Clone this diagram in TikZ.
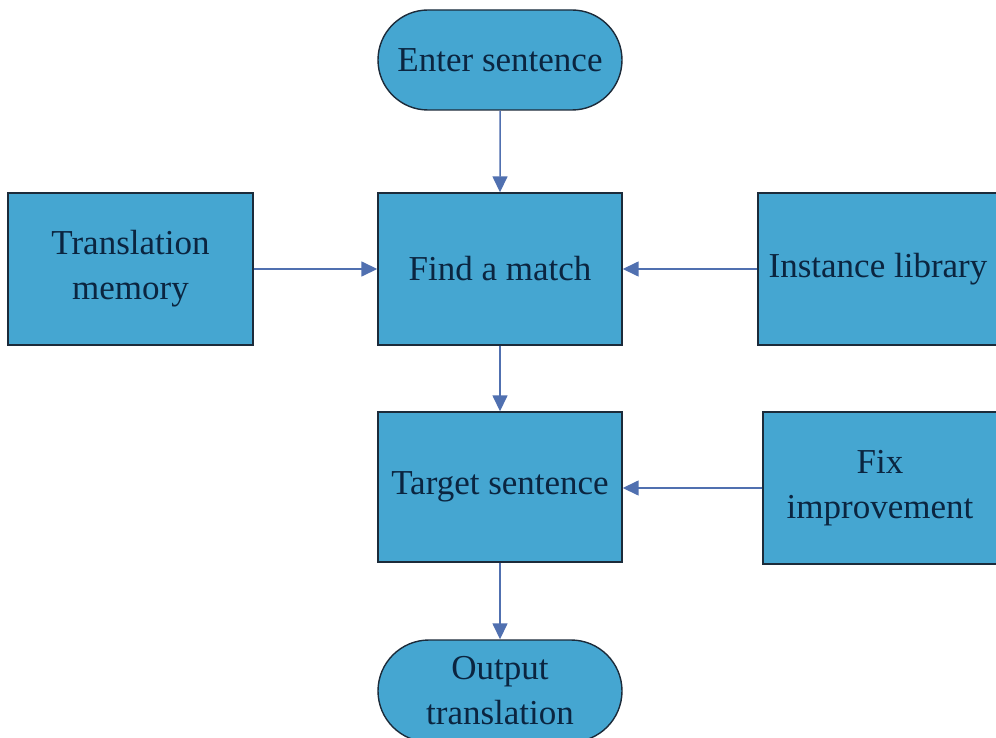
\documentclass[tikz,border=0pt]{standalone}
\usepackage{fontspec}
\setmainfont{Liberation Serif}
\usetikzlibrary{arrows.meta,shapes.misc}
\definecolor{boxfill}{HTML}{45A6D1}
\definecolor{boxline}{HTML}{1C2B3A}
\definecolor{arrowc}{HTML}{5070B0}
\definecolor{txt}{HTML}{0B2540}
\begin{document}
\begin{tikzpicture}[x=1pt,y=-1pt,
  box/.style={draw=boxline,line width=1.4pt,fill=boxfill,rectangle,inner sep=0pt,
    text=txt,align=center,font=\fontsize{35}{45}\selectfont},
  term/.style={box,rounded rectangle},
  conn/.style={draw=arrowc,line width=1.5pt,-{Triangle[length=16pt,width=15pt]}}]
\clip (0,0) rectangle (996,738);
\fill[white] (0,0) rectangle (996,738);
\node[term,minimum width=244pt,minimum height=100pt] (enter) at (500,60) {Enter sentence};
\node[box,minimum width=244pt,minimum height=152pt] (find) at (500,269) {Find a match};
\node[box,minimum width=245pt,minimum height=152pt] (tm) at (130.5,269) {Translation\\memory};
\node[box,minimum width=240pt,minimum height=152pt] (inst) at (878,269) {Instance library};
\node[box,minimum width=244pt,minimum height=150pt] (target) at (500,487) {Target sentence};
\node[box,minimum width=234pt,minimum height=152pt] (fix) at (880,488) {Fix\\improvement};
\node[term,minimum width=244pt,minimum height=102pt] (out) at (500,691) {Output\\translation};
\draw[conn] (enter) -- (find);
\draw[conn] (find) -- (target);
\draw[conn] (target) -- (out);
\draw[conn] (tm) -- (find);
\draw[conn] (inst) -- (find);
\draw[conn] (fix.west) -- (target.east |- fix.west);
\end{tikzpicture}
\end{document}
